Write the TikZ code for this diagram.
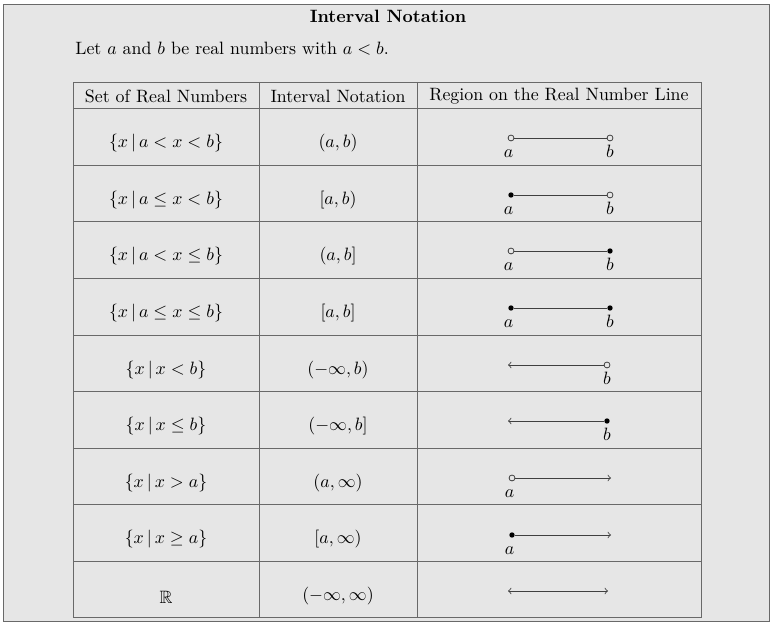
\documentclass[tikz,border=0pt]{standalone}
\usepackage{amssymb}
\definecolor{panelgray}{RGB}{230,230,230}
\definecolor{rulegray}{RGB}{105,105,105}
\tikzset{
    rule/.style={draw=rulegray, line width=0.55pt},
    numline/.style={draw=black!75, line width=0.45pt},
    opendot/.style={circle, draw=black!80, fill=panelgray, line width=0.4pt, inner sep=0pt, minimum size=3.3pt},
    closeddot/.style={circle, fill=black, inner sep=0pt, minimum size=3pt},
    lab/.style={text height=6.9pt, text depth=0pt, inner sep=0pt, label distance=1.9pt}
}
\begin{document}
\begin{tikzpicture}[x=0.56pt, y=-0.56pt]
        \useasboundingbox (0,0) rectangle (770,624);
        \draw[rule, fill=panelgray] (3,4) rectangle (769,621);

        \node[font=\bfseries] (title) at (388,16) {Interval Notation};
        \node[anchor=west, inner sep=0pt] (intro) at (75,49) {Let $a$ and $b$ be real numbers with $a<b$.};

        % table grid
        \draw[rule] (73,82) rectangle (701,617);
        \draw[rule] (259,82) -- (259,617);
        \draw[rule] (417,82) -- (417,617);
        \foreach \y in {108,165,221,278,335,391,448,504,561}
            \draw[rule] (73,\y) -- (701,\y);

        % header
        \node (hset) at (166,96) {Set of Real Numbers};
        \node (hint) at (338,96) {Interval Notation};
        \node (hreg) at (559,96) {Region on the Real Number Line};

        % first column
        \node (s1) at (166,143) {$\{x\,|\,a<x<b\}$};
        \node (s2) at (166,200) {$\{x\,|\,a\le x<b\}$};
        \node (s3) at (166,256) {$\{x\,|\,a<x\le b\}$};
        \node (s4) at (166,313) {$\{x\,|\,a\le x\le b\}$};
        \node (s5) at (166,370) {$\{x\,|\,x<b\}$};
        \node (s6) at (166,426) {$\{x\,|\,x\le b\}$};
        \node (s7) at (166,483) {$\{x\,|\,x>a\}$};
        \node (s8) at (166,539) {$\{x\,|\,x\ge a\}$};
        \node (s9) at (166,597) {$\mathbb{R}$};

        % second column
        \node (i1) at (338,143) {$(a,b)$};
        \node (i2) at (338,200) {$[a,b)$};
        \node (i3) at (338,256) {$(a,b]$};
        \node (i4) at (338,313) {$[a,b]$};
        \node (i5) at (338,370) {$(-\infty,b)$};
        \node (i6) at (338,426) {$(-\infty,b]$};
        \node (i7) at (338,483) {$(a,\infty)$};
        \node (i8) at (338,539) {$[a,\infty)$};
        \node (i9) at (338,596) {$(-\infty,\infty)$};

        % number lines
        \node[opendot, label={[lab, xshift=-1.3pt]below:$a$}] (a1) at (511,138) {};
        \node[opendot, label={[lab]below:$b$}] (b1) at (610,138) {};
        \draw[numline] (a1) -- (b1);

        \node[closeddot, label={[lab, xshift=-1.3pt]below:$a$}] (a2) at (511,195) {};
        \node[opendot, label={[lab]below:$b$}] (b2) at (610,195) {};
        \draw[numline] (a2) -- (b2);

        \node[opendot, label={[lab, xshift=-1.3pt]below:$a$}] (a3) at (511,251) {};
        \node[closeddot, label={[lab]below:$b$}] (b3) at (610,251) {};
        \draw[numline] (a3) -- (b3);

        \node[closeddot, label={[lab, xshift=-1.3pt]below:$a$}] (a4) at (511,308) {};
        \node[closeddot, label={[lab]below:$b$}] (b4) at (610,308) {};
        \draw[numline] (a4) -- (b4);

        \coordinate (l5) at (508,365);
        \node[opendot, label={[lab]below:$b$}] (b5) at (607,365) {};
        \draw[numline, <-] (l5) -- (b5);

        \coordinate (l6) at (508,421);
        \node[closeddot, label={[lab]below:$b$}] (b6) at (607,421) {};
        \draw[numline, <-] (l6) -- (b6);

        \node[opendot, label={[lab, xshift=-1.3pt]below:$a$}] (a7) at (512,478) {};
        \coordinate (r7) at (611,478);
        \draw[numline, ->] (a7) -- (r7);

        \node[closeddot, label={[lab, xshift=-1.3pt]below:$a$}] (a8) at (512,535) {};
        \coordinate (r8) at (611,535);
        \draw[numline, ->] (a8) -- (r8);

        \coordinate (l9) at (508,591);
        \coordinate (r9) at (608,591);
        \draw[numline, <->] (l9) -- (r9);
    \end{tikzpicture}
\end{document}
